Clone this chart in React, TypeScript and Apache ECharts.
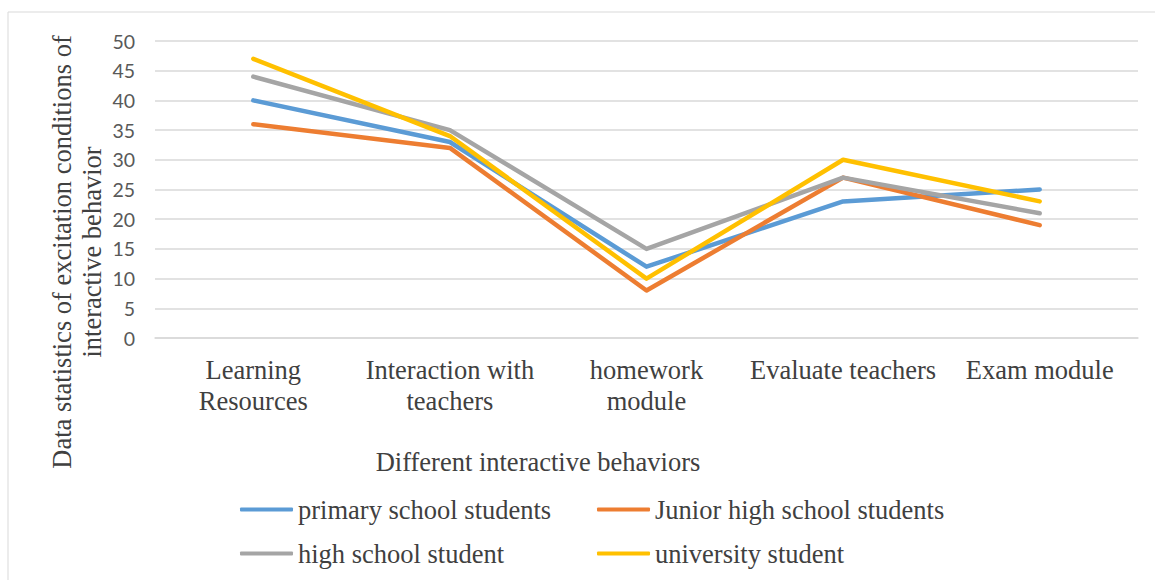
import React, { useEffect, useRef } from "react";
import * as echarts from "echarts";

const categories = [
  "Learning\nResources",
  "Interaction with\nteachers",
  "homework\nmodule",
  "Evaluate teachers",
  "Exam module",
];
const seriesNames = [
  "primary school students",
  "Junior high school students",
  "high school student",
  "university student",
];
const primary = [40, 33, 12, 23, 25];
const junior = [36, 32, 8, 27, 19];
const highSchool = [44, 35, 15, 27, 21];
const university = [47, 34, 10, 30, 23];
const colors = ["#5B9BD5", "#ED7D31", "#A5A5A5", "#FFC000"];

export default function App() {
  const ref = useRef<HTMLDivElement>(null);
  useEffect(() => {
    document.body.style.margin = "0";
    const chart = echarts.init(ref.current!, null, { renderer: "svg" });
    const values = [primary, junior, highSchool, university];
    const serif = "'Liberation Serif', 'Times New Roman', serif";
    const fs = 26.5;
    const legendPos = [
      { left: 235, top: 491 },
      { left: 592, top: 491 },
      { left: 235, top: 535 },
      { left: 592, top: 535 },
    ];
    chart.setOption({
      animation: false,
      color: colors,
      grid: { left: 155, right: 17, top: 41, bottom: 242 },
      xAxis: {
        type: "category",
        data: categories,
        boundaryGap: true,
        axisLine: { show: true, lineStyle: { color: "#D9D9D9", width: 1.5 } },
        axisTick: { show: false },
        axisLabel: {
          fontFamily: serif,
          fontSize: fs,
          color: "#404040",
          lineHeight: 31,
          margin: 16,
          interval: 0,
        },
      },
      yAxis: {
        type: "value",
        min: 0,
        max: 50,
        interval: 5,
        axisLine: { show: false },
        axisTick: { show: false },
        splitLine: { lineStyle: { color: "#D9D9D9", width: 1.5 } },
        axisLabel: {
          fontFamily: "Lato, 'Open Sans', sans-serif",
          fontSize: 19.5,
          color: "#595959",
          margin: 20,
        },
      },
      legend: seriesNames.map((n, i) => ({
        data: [n],
        left: legendPos[i].left,
        top: legendPos[i].top,
        itemWidth: 53,
        itemHeight: 4,
        itemGap: 4,
        icon: "roundRect",
        textStyle: { fontFamily: serif, fontSize: fs, color: "#404040" },
      })),
      series: seriesNames.map((n, i) => ({
        name: n,
        type: "line",
        data: values[i],
        symbol: "none",
        lineStyle: { width: 4.5, color: colors[i], cap: "round", join: "round" },
        itemStyle: { color: colors[i] },
      })),
      graphic: [
        {
          type: "rect",
          shape: { x: 8, y: 12, width: 1160, height: 580 },
          style: { fill: "none", stroke: "#D9D9D9", lineWidth: 1 },
          silent: true,
        },
        {
          type: "text",
          x: 77,
          y: 252,
          rotation: Math.PI / 2,
          style: {
            text: "Data statistics of excitation conditions of\ninteractive behavior",
            font: `${fs}px ${serif}`,
            fill: "#404040",
            align: "center",
            verticalAlign: "middle",
            lineHeight: 30,
          },
        },
        {
          type: "text",
          x: 538,
          y: 462,
          style: {
            text: "Different interactive behaviors",
            font: `${fs}px ${serif}`,
            fill: "#404040",
            align: "center",
            verticalAlign: "middle",
          },
        },
      ],
    });
    return () => chart.dispose();
  }, []);
  return <div ref={ref} style={{ position: "absolute", left: 0, top: 0, width: 1155, height: 580 }} />;
}
